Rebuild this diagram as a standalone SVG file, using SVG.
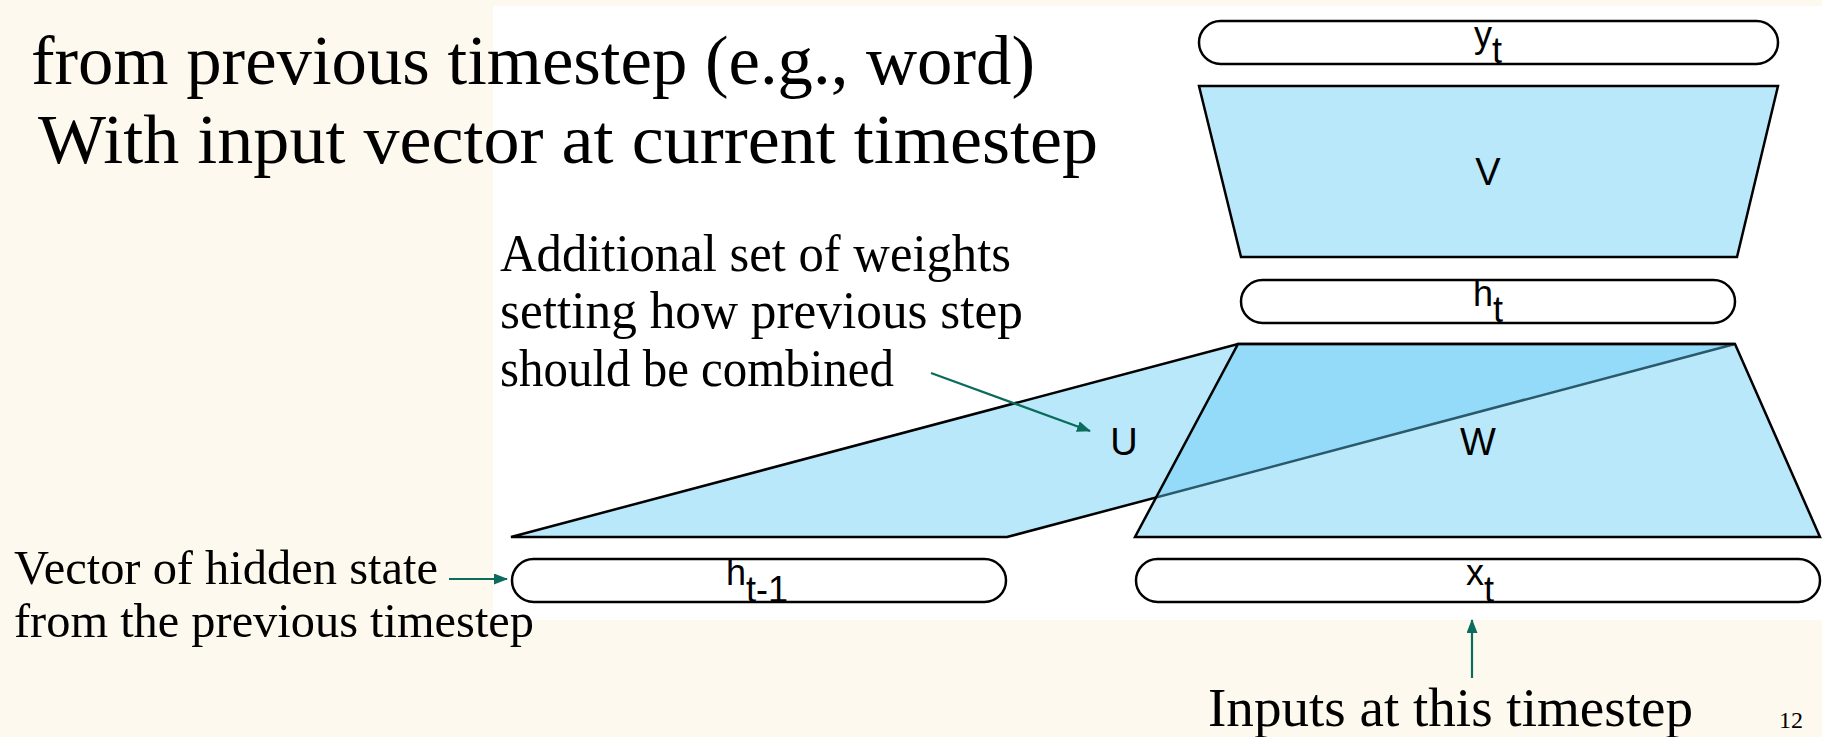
<svg xmlns="http://www.w3.org/2000/svg" width="1822" height="737" viewBox="0 0 1822 737">
<defs>
<style>
.pill{fill:#ffffff;stroke:#000;stroke-width:2.5}
.blue{fill:#B9E8FB;stroke:#000;stroke-width:2.5;stroke-linejoin:miter}
.wt{fill:rgb(97,203,246);fill-opacity:0.44;stroke:#000;stroke-width:2.5}
.sans{font-family:"Liberation Sans",Arial,sans-serif;fill:#000}
.lbl{font-size:38px}
.pl{font-size:36px}
.serif{font-family:"Liberation Serif","Times New Roman",serif;fill:#000}
.arr{stroke:#0B6B5C;stroke-width:2.2;fill:none;marker-end:url(#ah)}
</style>
<marker id="ah" markerUnits="userSpaceOnUse" markerWidth="14" markerHeight="11" refX="13" refY="5.5" orient="auto">
<path d="M0,0 L14,5.5 L0,11 z" fill="#0B6B5C"/>
</marker>
</defs>
<rect x="0" y="0" width="1822" height="737" fill="#FEF9EE"/>
<rect x="493" y="6" width="1329" height="614" fill="#ffffff"/>

<g id="title" class="serif">
<text x="31" y="84" font-size="70" textLength="1004" lengthAdjust="spacingAndGlyphs">from previous timestep (e.g., word)</text>
<text x="38" y="163" font-size="70" textLength="1060" lengthAdjust="spacingAndGlyphs">With input vector at current timestep</text>
</g>

<g id="node-yt">
<rect class="pill" x="1199" y="21" width="579" height="43" rx="21.5"/>
<text class="sans pl" x="1488" y="47" text-anchor="middle">y<tspan dy="16">t</tspan></text>
</g>

<g id="node-V">
<polygon class="blue" points="1199,86 1778,86 1737,257 1241,257"/>
<text class="sans lbl" x="1488" y="185" text-anchor="middle">V</text>
</g>

<g id="node-ht">
<rect class="pill" x="1241" y="280" width="494" height="43" rx="21.5"/>
<text class="sans pl" x="1488" y="306" text-anchor="middle">h<tspan dy="16">t</tspan></text>
</g>

<g id="node-U">
<polygon class="blue" points="511,537 1007,537 1735,344 1238,344"/>
<text class="sans lbl" x="1124" y="455" text-anchor="middle">U</text>
</g>

<g id="node-W">
<polygon class="wt" points="1238,344 1735,344 1820,537 1135,537"/>
<text class="sans lbl" x="1478" y="455" text-anchor="middle">W</text>
</g>

<g id="node-ht-1">
<rect class="pill" x="512" y="559" width="494" height="43" rx="21.5"/>
<text class="sans pl" x="757" y="585" text-anchor="middle">h<tspan dy="17">t-1</tspan></text>
</g>

<g id="node-xt">
<rect class="pill" x="1136" y="559" width="684" height="43" rx="21.5"/>
<text class="sans pl" x="1480" y="585" text-anchor="middle">x<tspan dy="17">t</tspan></text>
</g>

<g id="annotations" class="serif">
<text x="500" y="271" font-size="52" textLength="511" lengthAdjust="spacingAndGlyphs">Additional set of weights</text>
<text x="500" y="328" font-size="52" textLength="523" lengthAdjust="spacingAndGlyphs">setting how previous step</text>
<text x="500" y="386" font-size="52" textLength="394" lengthAdjust="spacingAndGlyphs">should be combined</text>
<text x="14" y="584" font-size="48" textLength="424" lengthAdjust="spacingAndGlyphs">Vector of hidden state</text>
<text x="14" y="637" font-size="48" textLength="520" lengthAdjust="spacingAndGlyphs">from the previous timestep</text>
<text x="1208" y="726" font-size="55" textLength="485" lengthAdjust="spacingAndGlyphs">Inputs at this timestep</text>
<text x="1779" y="728" font-size="24">12</text>
</g>

<g id="connectors">
<line class="arr" x1="931" y1="373" x2="1090" y2="431"/>
<line class="arr" x1="449" y1="579" x2="507" y2="579"/>
<line class="arr" x1="1472" y1="678" x2="1472" y2="620"/>
</g>
</svg>
